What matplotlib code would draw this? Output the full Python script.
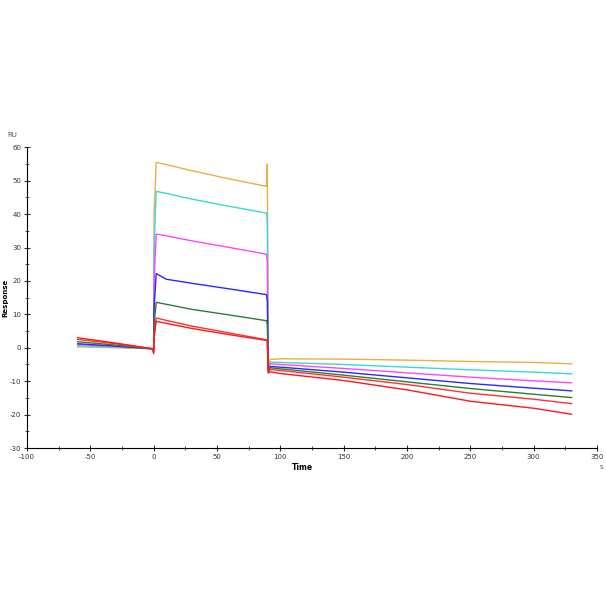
import matplotlib.pyplot as plt
from matplotlib.ticker import MultipleLocator

plt.rcParams['axes.unicode_minus'] = False

# sensorgram: baseline, association, dissociation phases
t_base = [-60, -30, -1, 0]
t_assoc = [0.3, 2, 10, 30, 60, 89, 89.7]
t_dissoc = [90.5, 92, 100, 150, 200, 250, 300, 330]

colors = ['#E8B040', '#38D8D8', '#FF44FF', '#2828FF', '#2E7D32', '#FF3030', '#FF1818']

base = [
    [0.3, 0.0, -0.3, -0.5],
    [0.6, 0.2, -0.3, -0.5],
    [1.0, 0.4, -0.3, -0.6],
    [1.2, 0.5, -0.3, -0.6],
    [1.8, 0.8, -0.3, -0.7],
    [2.5, 1.2, -0.3, -1.2],
    [3.0, 1.4, -0.3, -1.8],
]
assoc = [
    [40.0, 55.5, 54.8, 53.0, 50.5, 48.3, 55.0],
    [30.0, 46.8, 46.2, 44.5, 42.3, 40.3, 38.0],
    [20.0, 34.0, 33.5, 32.0, 30.0, 28.0, 26.0],
    [12.0, 22.2, 20.5, 19.3, 17.6, 15.9, 14.0],
    [7.0, 13.6, 13.0, 11.5, 9.8, 8.1, 7.0],
    [4.0, 8.9, 8.2, 6.5, 4.4, 2.4, 2.0],
    [3.0, 7.9, 7.3, 5.8, 3.9, 2.2, 2.0],
]
dissoc = [
    [-5.5, -3.5, -3.3, -3.4, -3.7, -4.1, -4.4, -4.8],
    [-6.0, -4.3, -4.4, -5.0, -5.8, -6.6, -7.3, -7.8],
    [-6.3, -4.8, -5.0, -6.2, -7.5, -8.8, -9.9, -10.5],
    [-6.8, -5.6, -5.8, -7.3, -9.0, -10.7, -12.1, -12.9],
    [-7.0, -6.0, -6.3, -8.2, -10.2, -12.2, -13.9, -14.9],
    [-7.3, -6.5, -6.8, -8.8, -11.0, -13.6, -15.4, -16.7],
    [-7.6, -7.2, -7.7, -9.8, -12.6, -16.0, -18.1, -19.9],
]

fig = plt.figure(figsize=(6.06, 6.06), dpi=100)
ax = fig.add_axes([0.0446, 0.2607, 0.9405, 0.4963])

for c, b, a, d in zip(colors, base, assoc, dissoc):
    t = t_base + t_assoc + t_dissoc
    y = b + a + d
    ax.plot(t, y, color=c, lw=1.0)

ax.set_xlim(-100, 350)
ax.set_ylim(-30, 60)
ax.spines['top'].set_visible(False)
ax.spines['right'].set_visible(False)
ax.xaxis.set_major_locator(MultipleLocator(50))
ax.xaxis.set_minor_locator(MultipleLocator(25))
ax.yaxis.set_major_locator(MultipleLocator(10))
ax.yaxis.set_minor_locator(MultipleLocator(5))
ax.tick_params(which='both', direction='inout', labelsize=5, colors='#333333', pad=2)
ax.tick_params(which='major', length=4)
ax.tick_params(which='minor', length=2.5)

fig.text(12 / 606, 1 - 135 / 606, 'RU', fontsize=5, color='#555555', ha='center', va='center')
fig.text(5 / 606, 1 - 298 / 606, 'Response', fontsize=5, fontweight='bold',
         rotation=90, ha='center', va='center')
fig.text(302 / 606, 1 - 468 / 606, 'Time', fontsize=5.5, fontweight='bold',
         ha='center', va='center')
fig.text(601 / 606, 1 - 467 / 606, 's', fontsize=5, color='#555555', ha='center', va='center')

fig.savefig('out.png', dpi=100)
